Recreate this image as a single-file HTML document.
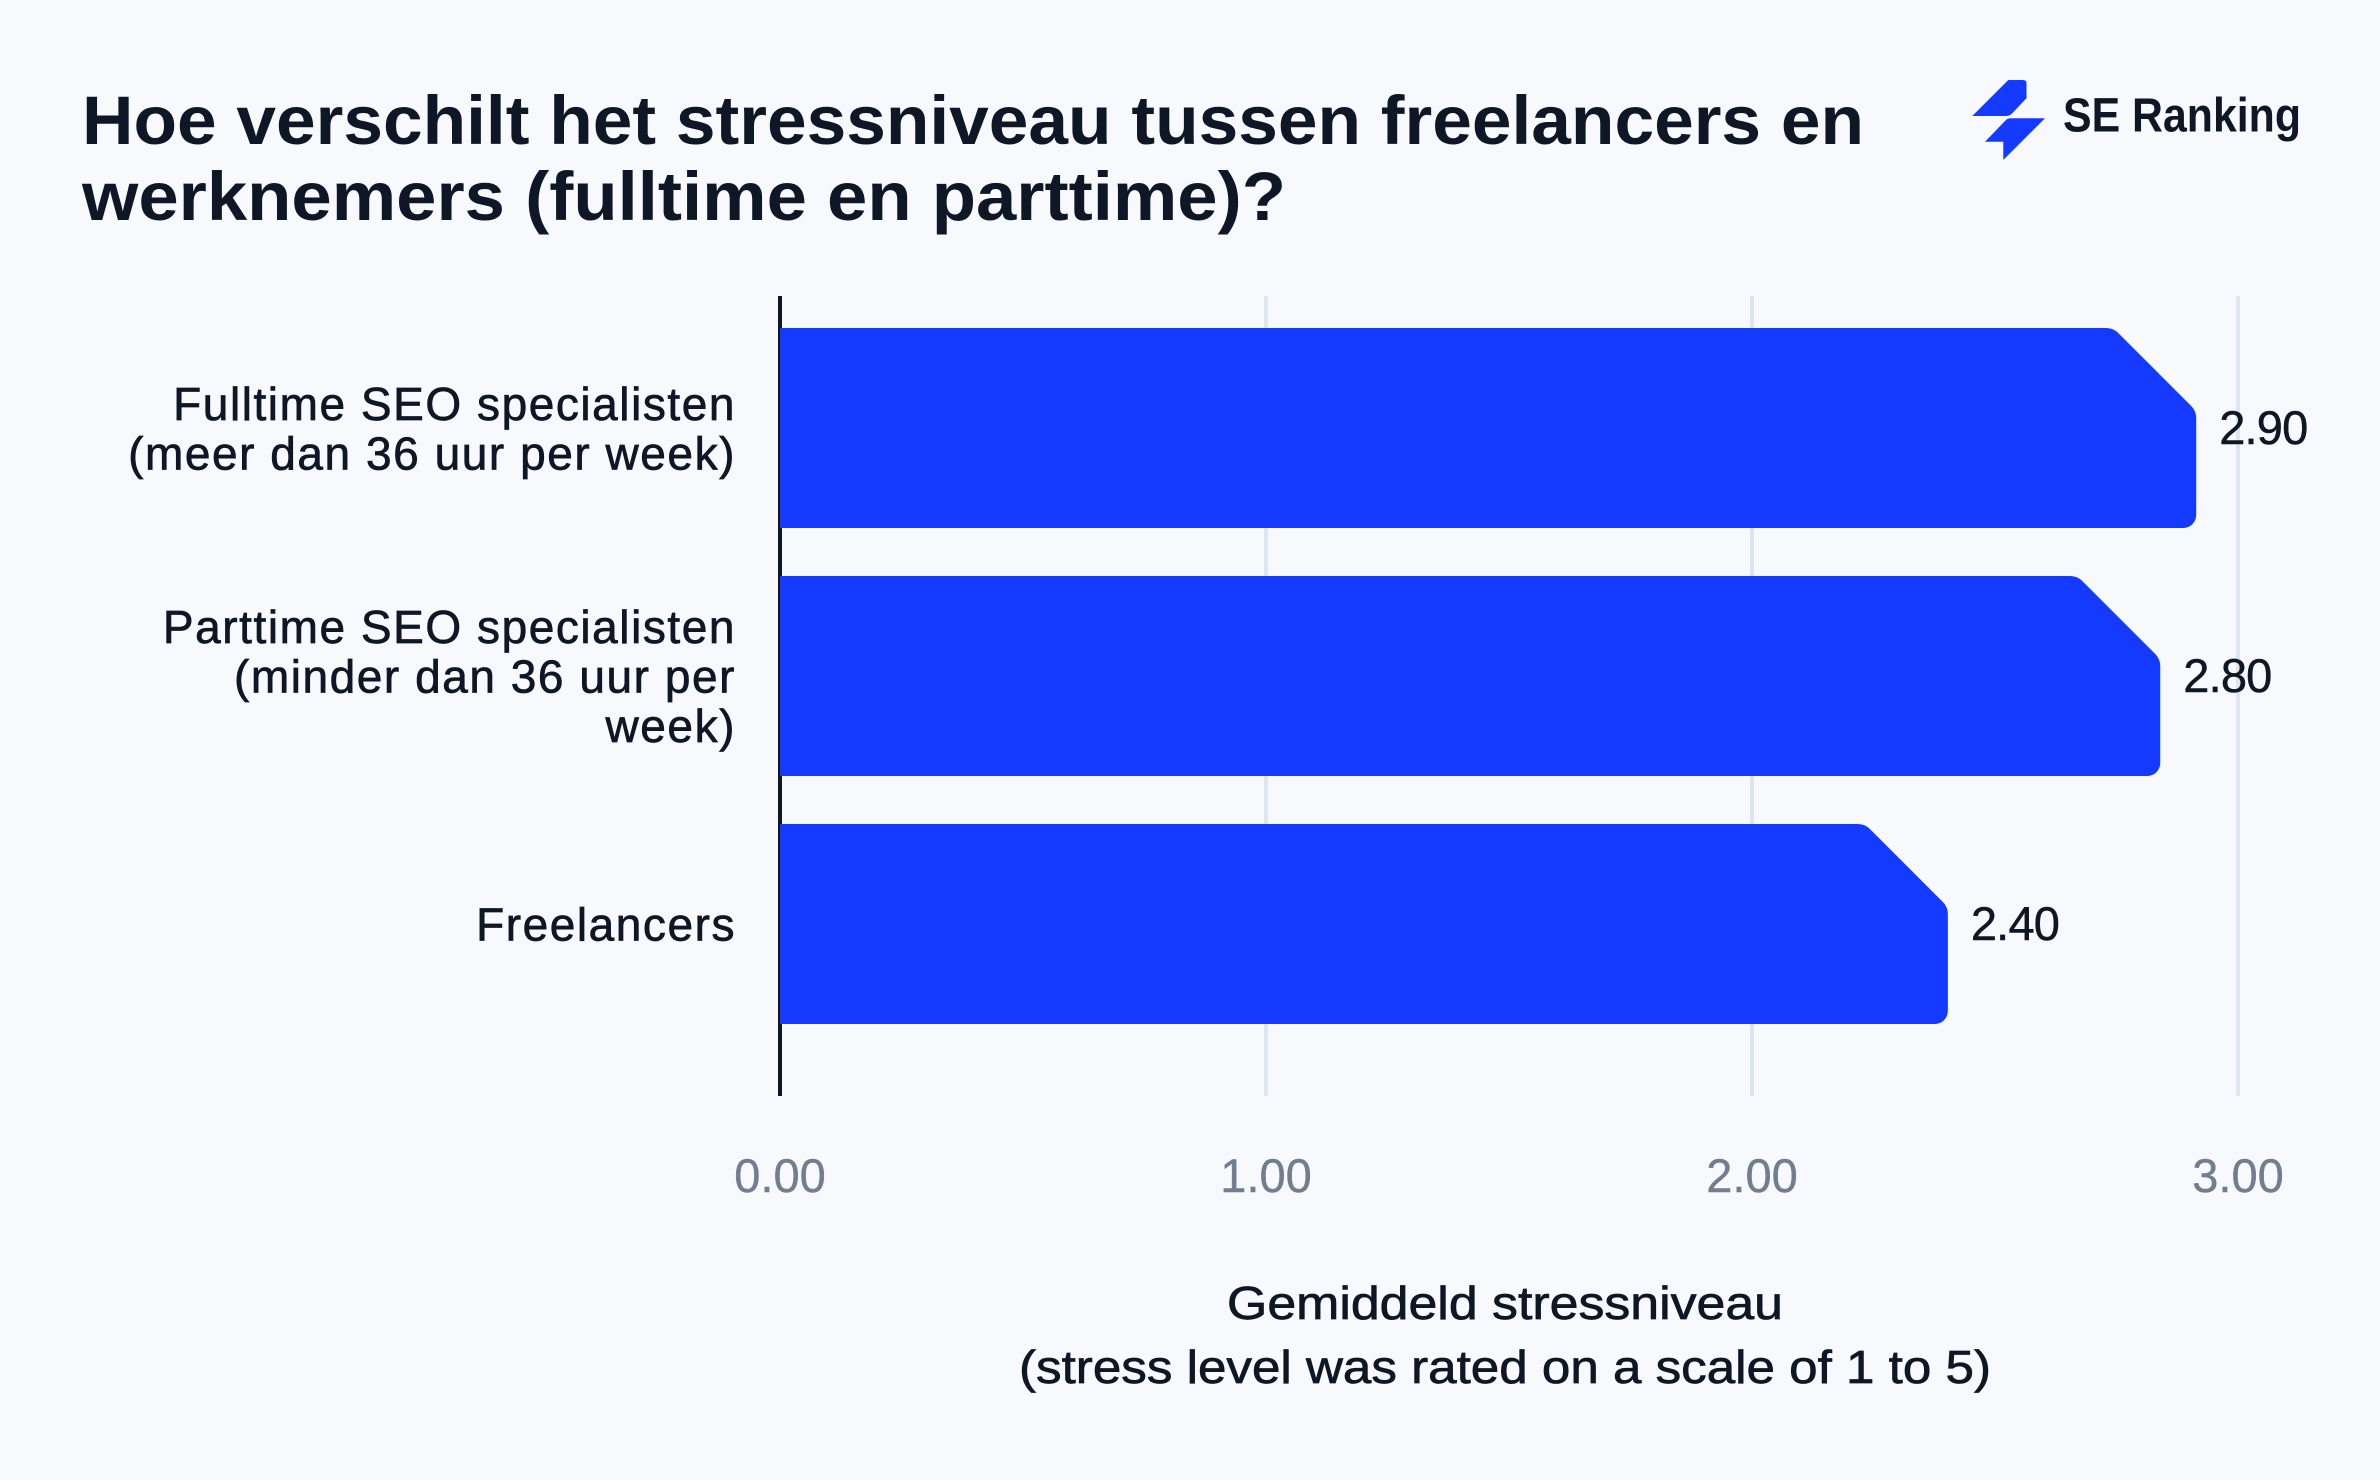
<!DOCTYPE html>
<html lang="nl">
<head>
<meta charset="utf-8">
<title>Hoe verschilt het stressniveau tussen freelancers en werknemers</title>
<style>
  html, body { margin: 0; padding: 0; background: #f7f9fd; }
  body { width: 2380px; height: 1480px; overflow: hidden; }
  svg { display: block; font-family: "Liberation Sans", sans-serif; }
  .ink { fill: #0f1626; }
  .cat { fill: #0f1626; font-size: 46px; letter-spacing: 1.55px; stroke: #0f1626; stroke-width: 0.7px; text-anchor: end; }
  .val { fill: #0f1626; font-size: 47px; letter-spacing: -0.8px; stroke: #0f1626; stroke-width: 0.5px; }
  .tick { fill: #727e8f; font-size: 47px; text-anchor: middle; stroke: #727e8f; stroke-width: 0.4px; }
</style>
</head>
<body>
<svg id="chart" xmlns="http://www.w3.org/2000/svg" width="2380" height="1480" viewBox="0 0 2380 1480">
  <rect x="0" y="0" width="2380" height="1480" fill="#f7f9fd"/>

  <g>
    <text class="ink" x="82" y="144" font-size="69" font-weight="700" textLength="1782" lengthAdjust="spacingAndGlyphs">Hoe verschilt het stressniveau tussen freelancers en</text>
    <text class="ink" x="82" y="220" font-size="69" font-weight="700" textLength="1204" lengthAdjust="spacingAndGlyphs">werknemers (fulltime en parttime)?</text>
  </g>

  <g>
    <path d="M1972.3 116 L2008.3 80 L2023 80 Q2026.5 80 2026.5 83.5 L2026.5 98.3 L2012 113.5 Q2009.5 116 2006 116 Z" fill="#143aff"/>
    <path d="M2045 118.3 L2003.3 160 L2003.3 141.7 L1985 141.7 L2005.5 120.5 Q2007.5 118.3 2011 118.3 Z" fill="#143aff"/>
    <text class="ink" x="2063" y="131.5" font-size="48" font-weight="700" textLength="238" lengthAdjust="spacingAndGlyphs">SE Ranking</text>
  </g>

  <g id="grid"></g>
  <rect x="778" y="296" width="4" height="800" fill="#0f1626"/>
  <g id="bars"></g>
  <g id="values"></g>
  <g id="categories"></g>
  <g id="ticks"></g>

  <g>
    <text class="ink" x="1227" y="1319" font-size="46" stroke="#0f1626" stroke-width="0.7" textLength="556" lengthAdjust="spacingAndGlyphs">Gemiddeld stressniveau</text>
    <text class="ink" x="1019" y="1383" font-size="46" stroke="#0f1626" stroke-width="0.7" textLength="972" lengthAdjust="spacingAndGlyphs">(stress level was rated on a scale of 1 to 5)</text>
  </g>
</svg>

<script>
const categories = [
  ["Fulltime SEO specialisten", "(meer dan 36 uur per week)"],
  ["Parttime SEO specialisten", "(minder dan 36 uur per", "week)"],
  ["Freelancers"]
];
const seriesValues = [2.914, 2.84, 2.403];
const valueLabels = ["2.90", "2.80", "2.40"];
const tickValues = [0, 1, 2, 3];
const tickLabels = ["0.00", "1.00", "2.00", "3.00"];

const SVG_NS = "http://www.w3.org/2000/svg";

function xScale(v) { return 780 + 486 * v; }
function bandTop(i) { return 328 + 248 * i; }
const bandHeight = 200;

function make(tag, parent) {
  const el = document.createElementNS(SVG_NS, tag);
  parent.appendChild(el);
  return el;
}

function barPath(x0, x1, y0, y1) {
  const dx = 83, dy = 83, r = 13;
  const cx = x1 - dx;
  const cy = y0 + dy;
  return "M" + x0 + " " + y0 +
    " L" + (cx - 7) + " " + y0 +
    " Q" + cx + " " + y0 + " " + (cx + 5) + " " + (y0 + 5) +
    " L" + (x1 - 5) + " " + (cy - 5) +
    " Q" + x1 + " " + cy + " " + x1 + " " + (cy + 7) +
    " L" + x1 + " " + (y1 - r) +
    " A" + r + " " + r + " 0 0 1 " + (x1 - r) + " " + y1 +
    " L" + x0 + " " + y1 + " Z";
}

const gridGroup = document.getElementById("grid");
const barsGroup = document.getElementById("bars");
const valuesGroup = document.getElementById("values");
const categoriesGroup = document.getElementById("categories");
const ticksGroup = document.getElementById("ticks");

tickValues.forEach(function (t, i) {
  if (t !== 0) {
    const line = make("line", gridGroup);
    
    
    line.setAttribute("x1", xScale(t));
    line.setAttribute("x2", xScale(t));
    line.setAttribute("y1", 296);
    line.setAttribute("y2", 1096);
    line.setAttribute("stroke", "#dde5f1");
    line.setAttribute("stroke-width", 4);
  }
  const label = make("text", ticksGroup);
  
  
  label.setAttribute("class", "tick");
  label.setAttribute("x", xScale(t));
  label.setAttribute("y", 1192);
  label.textContent = tickLabels[i];
});

seriesValues.forEach(function (v, i) {
  const top = bandTop(i);
  const x1 = xScale(v);

  const bar = make("path", barsGroup);
  
  
  bar.setAttribute("d", barPath(xScale(0), x1, top, top + bandHeight));
  bar.setAttribute("fill", "#143aff");

  const value = make("text", valuesGroup);
  
  
  value.setAttribute("class", "val");
  value.setAttribute("x", x1 + 23);
  value.setAttribute("y", top + 116);
  value.textContent = valueLabels[i];

  const lines = categories[i];
  lines.forEach(function (line, j) {
    const label = make("text", categoriesGroup);
    
    
    label.setAttribute("class", "cat");
    label.setAttribute("x", 736);
    label.setAttribute("y", top + bandHeight / 2 + 16.5 + 49.5 * (j - (lines.length - 1) / 2));
    label.textContent = line;
  });
});
</script>
</body>
</html>
